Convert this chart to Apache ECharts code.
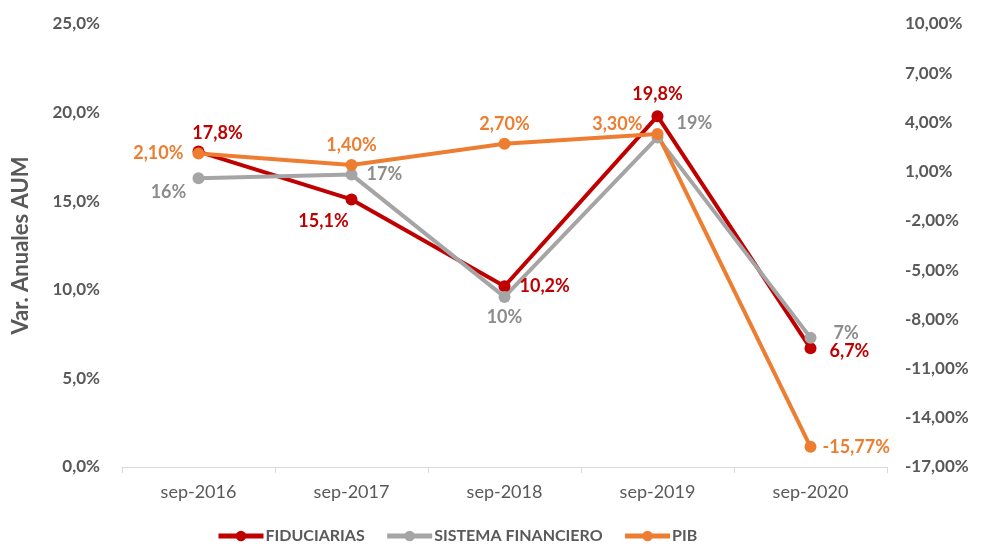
<!DOCTYPE html>
<html>
<head>
<meta charset="utf-8">
<script src="https://cdn.jsdelivr.net/npm/echarts@6/dist/echarts.min.js"></script>
<style>
  html, body { margin: 0; padding: 0; background: #fff; }
  #chart { width: 987px; height: 551px; }
</style>
</head>
<body>
<div id="chart"></div>
<script>
// datos
var categorias = ['sep-2016', 'sep-2017', 'sep-2018', 'sep-2019', 'sep-2020'];
var fiduciarias = [17.8, 15.1, 10.2, 19.8, 6.7];
var sistemaFinanciero = [16.3, 16.5, 9.6, 18.6, 7.3];
var pib = [2.1, 1.4, 2.7, 3.3, -15.77];

var FONT = 'Lato, "Open Sans", sans-serif';
var GRIS_TXT = '#595959';

// posiciones de etiqueta por punto
var posFid = [
  { position: 'top', offset: [19, 2] },
  { position: 'bottom', offset: [-28, 2] },
  { position: 'right', offset: [4, 0] },
  { position: 'top', offset: [0, -2] },
  { position: 'right', offset: [8, 3] },
];
var posSis = [
  { position: 'bottom', offset: [-30, -6] },
  { position: 'right', offset: [4, 0] },
  { position: 'bottom', offset: [0, 0] },
  { position: 'right', offset: [8, -14] },
  { position: 'right', offset: [12, -4] },
];
var posPib = [
  { position: 'left', offset: [-4, 0] },
  { position: 'top', offset: [0, 0] },
  { position: 'top', offset: [0, 0] },
  { position: 'left', offset: [-4, -10] },
  { position: 'right', offset: [1, 0] },
];

function serieDatos(valores, pos) {
  return valores.map(function (v, i) {
    return { value: v, label: pos[i] };
  });
}

var chart = echarts.init(document.getElementById('chart'));
var option = {
  animation: false,
  textStyle: { fontFamily: FONT },
  grid: { left: 122, right: 100, top: 24, bottom: 84 },
  legend: {
    bottom: 2,
    left: 211,
    itemWidth: 45,
    itemHeight: 13,
    itemGap: 20,
    lineStyle: { width: 5 },
    textStyle: { fontFamily: FONT, fontWeight: 'bold', fontSize: 16, color: GRIS_TXT, padding: [0, 0, 0, -3] },
    data: ['FIDUCIARIAS', 'SISTEMA FINANCIERO', 'PIB'],
  },
  xAxis: {
    type: 'category',
    data: categorias,
    axisLine: { lineStyle: { color: '#d9d9d9', width: 1 } },
    axisTick: { show: true, length: 6, lineStyle: { color: '#d9d9d9' } },
    axisLabel: { color: GRIS_TXT, fontSize: 18, margin: 16, fontFamily: FONT },
  },
  yAxis: [
    {
      type: 'value',
      min: 0,
      max: 25,
      interval: 5,
      name: 'Var. Anuales AUM',
      nameLocation: 'middle',
      nameGap: 90,
      nameTextStyle: { color: GRIS_TXT, fontSize: 22, fontWeight: 'bold', fontFamily: FONT },
      splitLine: { show: false },
      axisLine: { show: false },
      axisTick: { show: false },
      axisLabel: {
        color: GRIS_TXT,
        fontSize: 17,
        fontWeight: 'bold',
        margin: 22,
        formatter: function (v) { return v.toFixed(1).replace('.', ',') + '%'; },
      },
    },
    {
      type: 'value',
      min: -17,
      max: 10,
      interval: 3,
      splitLine: { show: false },
      axisLine: { show: false },
      axisTick: { show: false },
      axisLabel: {
        color: GRIS_TXT,
        fontSize: 17,
        fontWeight: 'bold',
        margin: 18,
        formatter: function (v) { return v.toFixed(2).replace('.', ',') + '%'; },
      },
    },
  ],
  series: [
    {
      name: 'FIDUCIARIAS',
      type: 'line',
      yAxisIndex: 0,
      data: serieDatos(fiduciarias, posFid),
      symbol: 'circle',
      symbolSize: 12,
      lineStyle: { color: '#C00000', width: 4 },
      itemStyle: { color: '#C00000' },
      label: {
        show: true,
        color: '#C00000',
        fontSize: 18,
        fontWeight: 'bold',
        formatter: function (p) { return p.value.toFixed(1).replace('.', ',') + '%'; },
      },
    },
    {
      name: 'SISTEMA FINANCIERO',
      type: 'line',
      yAxisIndex: 0,
      data: serieDatos(sistemaFinanciero, posSis),
      symbol: 'circle',
      symbolSize: 12,
      lineStyle: { color: '#A5A5A5', width: 4 },
      itemStyle: { color: '#A5A5A5' },
      label: {
        show: true,
        color: '#8c8c8c',
        fontSize: 18,
        fontWeight: 'bold',
        formatter: function (p) { return Math.round(p.value) + '%'; },
      },
    },
    {
      name: 'PIB',
      type: 'line',
      yAxisIndex: 1,
      data: serieDatos(pib, posPib),
      symbol: 'circle',
      symbolSize: 12,
      lineStyle: { color: '#ED7D31', width: 4 },
      itemStyle: { color: '#ED7D31' },
      label: {
        show: true,
        color: '#ED7D31',
        fontSize: 18,
        fontWeight: 'bold',
        formatter: function (p) { return p.value.toFixed(2).replace('.', ',') + '%'; },
      },
    },
  ],
};
chart.setOption(option);
</script>
</body>
</html>
